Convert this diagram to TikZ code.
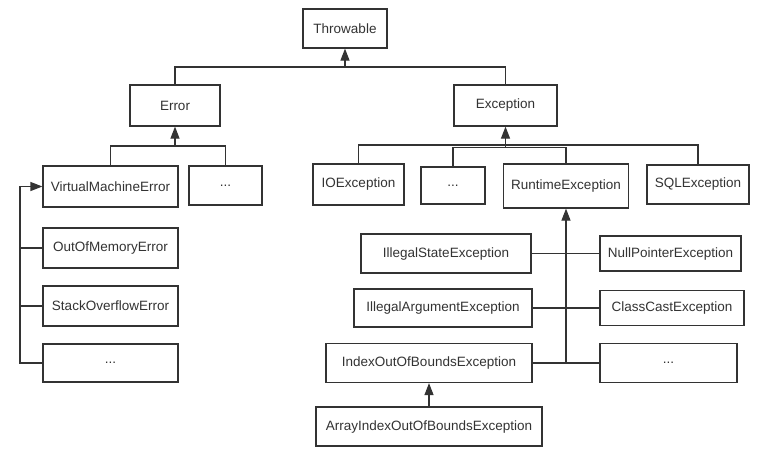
\documentclass[tikz,border=0pt]{standalone}
\usepackage{fontspec}
\setmainfont{Liberation Sans}
\usetikzlibrary{arrows.meta}
\definecolor{ink}{HTML}{333333}

\begin{document}
\begin{tikzpicture}[
  x=1pt, y=-1pt,
  box/.style={draw=ink, line width=1.2pt, fill=white, text=ink,
    font=\fontsize{13.5}{16}\selectfont, inner sep=2pt},
  link/.style={draw=ink, line width=1.2pt},
  flow/.style={link, -{Triangle[length=12pt, width=9pt]}}
]
  \useasboundingbox (0,0) rectangle (767,459);

  % top of the hierarchy
  \node[box, minimum width=84, minimum height=39] (throwable) at (345,28.5) {Throwable};
  \node[box, minimum width=90, minimum height=41] (error) at (175,105.5) {Error};
  \node[box, minimum width=103, minimum height=41] (exception) at (505.5,105.5) {Exception};

  % errors
  \node[box, minimum width=135, minimum height=41] (vme) at (110.5,186.5) {VirtualMachineError};
  \node[box, minimum width=73, minimum height=39] (errmore) at (225.5,185.5) {...};
  \node[box, minimum width=135, minimum height=40] (oom) at (110.5,248) {OutOfMemoryError};
  \node[box, minimum width=135, minimum height=40] (soe) at (110.5,306) {StackOverflowError};
  \node[box, minimum width=135, minimum height=38] (vmmore) at (110.5,363) {...};

  % exceptions
  \node[box, minimum width=91, minimum height=41] (ioe) at (358.5,184.5) {IOException};
  \node[box, minimum width=64, minimum height=37] (excmore) at (453,185.5) {...};
  \node[box, minimum width=125, minimum height=44] (rte) at (566,186) {RuntimeException};
  \node[box, minimum width=102, minimum height=39] (sqle) at (698,184.5) {SQLException};

  % runtime exceptions
  \node[box, minimum width=170, minimum height=39] (ise) at (446,253.5) {IllegalStateException};
  \node[box, minimum width=178, minimum height=38] (iae) at (443,308) {IllegalArgumentException};
  \node[box, minimum width=206, minimum height=39] (ioobe) at (429,363) {IndexOutOfBoundsException};
  \node[box, minimum width=226, minimum height=39] (aioobe) at (429,426.5) {ArrayIndexOutOfBoundsException};
  \node[box, minimum width=141, minimum height=35] (npe) at (670.5,253.5) {NullPointerException};
  \node[box, minimum width=144, minimum height=35] (cce) at (672,308) {ClassCastException};
  \node[box, minimum width=137, minimum height=39] (rtmore) at (668.5,363) {...};

  % joints of the tree connectors
  \coordinate (tjoin) at (345,67);
  \coordinate (ejoin) at (175,146);
  \coordinate (xjoin) at (505.5,145);
  \coordinate (xjoin2) at (505.5,147.5);
  \coordinate (rjoin) at (566,363);
  \coordinate (vrail) at (20,186.5);

  \draw[link] (error.north) |- (tjoin) -| (exception.north);
  \draw[flow] (tjoin) -- (throwable.south);

  \draw[link] (vme.north) |- (ejoin) -| (errmore.north);
  \draw[flow] (ejoin) -- (error.south);

  \draw[link] (ioe.north) |- (xjoin) -| (sqle.north);
  \draw[link] (excmore.north) |- (xjoin2) -| (rte.north);
  \draw[flow] (xjoin2) -- (exception.south);

  % subclasses of VirtualMachineError share a rail on the left
  \draw[flow] (vmmore.west) -| (vrail) -- (vme.west);
  \draw[link] (oom.west) -- (oom.west -| vrail);
  \draw[link] (soe.west) -- (soe.west -| vrail);

  % subclasses of RuntimeException meet on one trunk
  \draw[flow] (rjoin) -- (rte.south);
  \draw[link] (ise.east) -- (npe.west);
  \draw[link] (iae.east) -- (cce.west);
  \draw[link] (ioobe.east) -- (rtmore.west);

  \draw[flow] (aioobe.north) -- (ioobe.south);
\end{tikzpicture}
\end{document}
